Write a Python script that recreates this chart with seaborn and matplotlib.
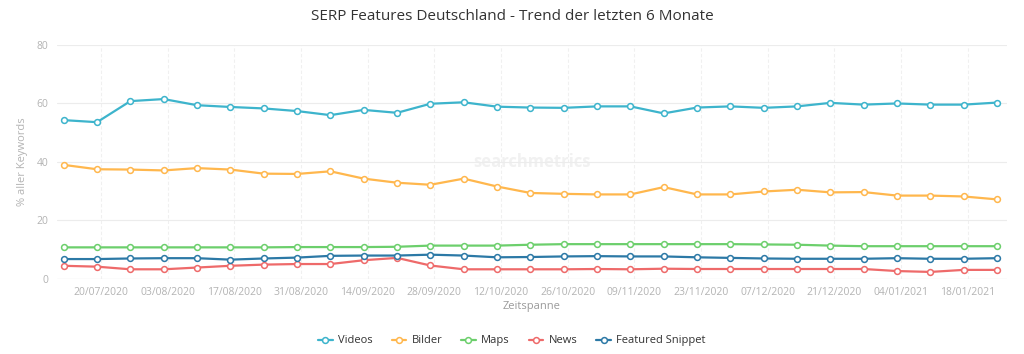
import pandas as pd
import seaborn as sns
import matplotlib.pyplot as plt
import matplotlib.dates as mdates

sns.set_style("white")
plt.rcParams['font.family'] = ['Open Sans', 'DejaVu Sans']

# weekly dates, 13/07/2020 .. 25/01/2021
dates = pd.date_range("2020-07-13", "2021-01-25", freq="7D")

videos = [54.3, 53.6, 60.8, 61.5, 59.4, 58.8, 58.3, 57.4, 56.0, 57.8, 56.8, 59.9, 60.4, 58.9,
          58.6, 58.5, 59.0, 59.0, 56.6, 58.6, 59.0, 58.5, 59.0, 60.2, 59.6, 60.0, 59.6, 59.6, 60.3]
bilder = [39.0, 37.5, 37.4, 37.1, 37.9, 37.4, 36.0, 35.9, 36.8, 34.3, 32.9, 32.2, 34.3, 31.6,
          29.4, 29.1, 28.9, 28.9, 31.4, 28.9, 28.9, 29.9, 30.5, 29.6, 29.7, 28.5, 28.5, 28.2, 27.2]
maps = [10.8, 10.8, 10.8, 10.8, 10.8, 10.8, 10.8, 10.9, 10.9, 10.9, 11.0, 11.4, 11.4, 11.4,
        11.7, 11.9, 11.9, 11.9, 11.9, 11.9, 11.9, 11.8, 11.7, 11.4, 11.2, 11.2, 11.2, 11.2, 11.2]
news = [4.5, 4.2, 3.3, 3.3, 3.9, 4.5, 4.9, 5.1, 5.1, 6.4, 7.2, 4.6, 3.3, 3.3,
        3.3, 3.3, 3.4, 3.3, 3.5, 3.4, 3.4, 3.4, 3.4, 3.4, 3.4, 2.7, 2.4, 3.1, 3.1]
snippet = [6.8, 6.8, 7.0, 7.1, 7.1, 6.6, 7.0, 7.3, 7.9, 8.0, 8.0, 8.3, 8.0, 7.4,
           7.5, 7.7, 7.8, 7.7, 7.7, 7.4, 7.2, 7.0, 6.9, 6.9, 6.9, 7.1, 6.9, 6.9, 7.1]

series = ["Videos", "Bilder", "Maps", "News", "Featured Snippet"]
colors = ["#3db4cc", "#ffb74d", "#6ccf6c", "#ee6a6a", "#2c79a6"]
tick_dates = pd.date_range("2020-07-20", "2021-01-18", freq="14D")

df = pd.DataFrame({"Datum": dates, "Videos": videos, "Bilder": bilder, "Maps": maps,
                   "News": news, "Featured Snippet": snippet})
long_df = df.melt(id_vars="Datum", var_name="Feature", value_name="Wert")

fig = plt.figure(figsize=(10.24, 3.54), dpi=100)
ax = fig.add_axes([0.0557, 0.212, 0.9273, 0.661])

sns.lineplot(data=long_df, x="Datum", y="Wert", hue="Feature", hue_order=series,
             palette=colors, marker="o", markersize=4.2, markerfacecolor="white",
             markeredgewidth=1.1, linewidth=1.6, legend=False, ax=ax)
for line, c in zip(ax.lines, colors):
    line.set_markeredgecolor(c)

ax.set_ylim(0, 80)
ax.set_yticks([0, 20, 40, 60, 80])
ax.set_xlim(dates[0] - pd.Timedelta(days=1.4), dates[-1] + pd.Timedelta(days=2.0))
# the original axis puts its ticks a little after the data points
ax.set_xticks(tick_dates + pd.Timedelta(hours=20))
ax.xaxis.set_major_formatter(mdates.DateFormatter("%d/%m/%Y"))

ax.grid(axis="y", color="#ececec", linewidth=0.8)
ax.grid(axis="x", color="#f0f0f0", linewidth=0.8, linestyle=(0, (3, 2)))
ax.set_axisbelow(True)
for s in ax.spines.values():
    s.set_visible(False)
ax.axhline(0, color="#d8d8d8", linewidth=0.8, zorder=0)

ax.tick_params(axis="both", length=0, labelsize=7.5, labelcolor="#b3b3b3", pad=6)
ax.set_xlabel("Zeitspanne", fontsize=8, color="#9a9a9a", labelpad=2)
ax.set_ylabel("% aller Keywords", fontsize=8, color="#b3b3b3", labelpad=6)

ax.text(0.5, 0.5, "searchmetrics", transform=ax.transAxes, fontsize=12, fontweight="bold",
        color="#f1f1f1", ha="center", va="center", zorder=0)

fig.suptitle("SERP Features Deutschland - Trend der letzten 6 Monate",
             fontsize=11, color="#333333", y=0.975)

fig.legend(handles=ax.lines[:5], labels=series, loc="center", bbox_to_anchor=(0.5, 0.037),
           ncol=5, frameon=False, fontsize=8, handlelength=1.3, columnspacing=1.7,
           handletextpad=0.5, labelcolor="#333333")

plt.savefig("out.png", dpi=100)
plt.close()
